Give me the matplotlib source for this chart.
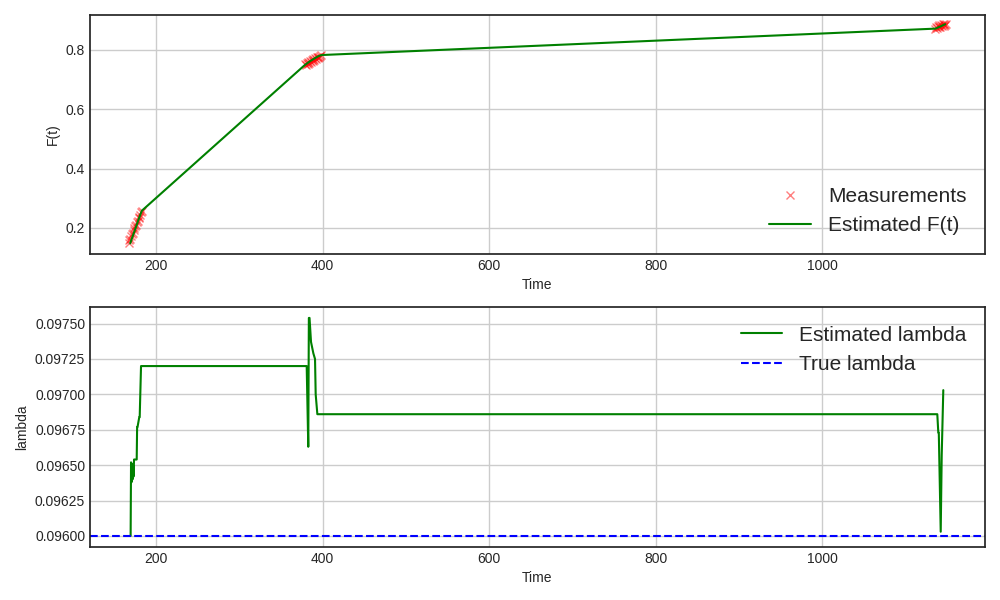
import matplotlib
matplotlib.use("Agg")
import matplotlib.pyplot as plt

# Measurements of F(t)
meas_t = [167, 168, 169, 170, 171, 172, 173, 174, 175, 176, 177, 178, 179, 180, 181, 182, 183,
          379, 380, 381, 382, 383, 384, 385, 386, 387, 388, 389, 390, 391, 392, 393, 394, 395, 396, 397, 398,
          1136, 1137, 1138, 1139, 1140, 1141, 1142, 1143, 1144, 1145, 1146, 1147, 1148, 1149]
meas_F = [0.150, 0.158, 0.162, 0.171, 0.178, 0.183, 0.192, 0.198, 0.205, 0.211, 0.219, 0.224, 0.232, 0.238, 0.245, 0.252, 0.258,
          0.752, 0.748, 0.757, 0.752, 0.761, 0.756, 0.763, 0.759, 0.767, 0.762, 0.770, 0.766, 0.773, 0.769, 0.775, 0.772, 0.778, 0.776, 0.781, 0.783,
          0.872, 0.878, 0.874, 0.881, 0.877, 0.883, 0.879, 0.884, 0.880, 0.886, 0.882, 0.887, 0.884, 0.889]

# Estimated F(t)
est_t = [169, 173, 177, 180, 183, 379, 385, 390, 395, 399, 1136, 1142, 1148]
est_F = [0.148, 0.180, 0.212, 0.236, 0.258, 0.750, 0.762, 0.771, 0.779, 0.783, 0.872, 0.879, 0.887]

# Estimated lambda
lam_t = [169.5, 170.0, 170.6, 171.2, 171.8, 172.4, 173.0, 173.6, 176.8, 177.3, 177.8, 179.9, 180.4, 182.0,
         381.0, 382.9, 383.6, 384.4, 386.2, 389.0, 391.0, 391.8, 393.8,
         1138.5, 1139.7, 1140.3, 1142.6, 1143.8, 1145.7]
lam_v = [0.09600, 0.09652, 0.09638, 0.09651, 0.09640, 0.09650, 0.09642, 0.09654, 0.09654, 0.09677, 0.09677, 0.09684, 0.09684, 0.09720,
         0.09720, 0.09663, 0.09754, 0.09754, 0.09737, 0.09729, 0.09725, 0.09700, 0.09686,
         0.09686, 0.09673, 0.09673, 0.09603, 0.09657, 0.09703]

true_lambda = 0.096

plt.style.use('seaborn-v0_8-white')
fig = plt.figure(figsize=(10, 6), dpi=100)
ax1 = fig.add_axes([0.09, 0.5767, 0.895, 0.3983])
ax2 = fig.add_axes([0.09, 0.0883, 0.895, 0.4000])

for ax in (ax1, ax2):
    ax.grid(True, color='#cccccc', linewidth=1.0)
    for s in ax.spines.values():
        s.set_color('#262626')
        s.set_linewidth(1.25)
    ax.tick_params(labelsize=10, colors='#262626')

ax1.plot(meas_t, meas_F, 'rx', alpha=0.5, markersize=6, label='Measurements')
ax1.plot(est_t, est_F, color='green', linewidth=1.5, label='Estimated F(t)')
ax1.set_xlabel('Time', fontsize=10)
ax1.set_ylabel('F(t)', fontsize=10)
ax1.set_yticks([0.2, 0.4, 0.6, 0.8])
ax1.set_xticks([200, 400, 600, 800, 1000])
ax1.set_xlim(120.7, 1195.8)
ax1.set_ylim(0.112, 0.918)
ax1.legend(loc='lower right', fontsize=15, frameon=False)

ax2.plot(lam_t, lam_v, color='green', linewidth=1.5, label='Estimated lambda')
ax2.axhline(true_lambda, color='blue', linestyle='--', linewidth=1.5, label='True lambda')
ax2.set_xlabel('Time', fontsize=10)
ax2.set_ylabel('lambda', fontsize=10)
ax2.set_xlim(120.7, 1195.8)
ax2.set_xticks([200, 400, 600, 800, 1000])
ax2.set_yticks([0.0960, 0.09625, 0.0965, 0.09675, 0.0970, 0.09725, 0.0975])
ax2.yaxis.set_major_formatter(matplotlib.ticker.FormatStrFormatter('%.5f'))
ax2.set_ylim(0.095922, 0.097617)
ax2.legend(loc='upper right', fontsize=15, frameon=False)

fig.savefig('out.png', dpi=100)
